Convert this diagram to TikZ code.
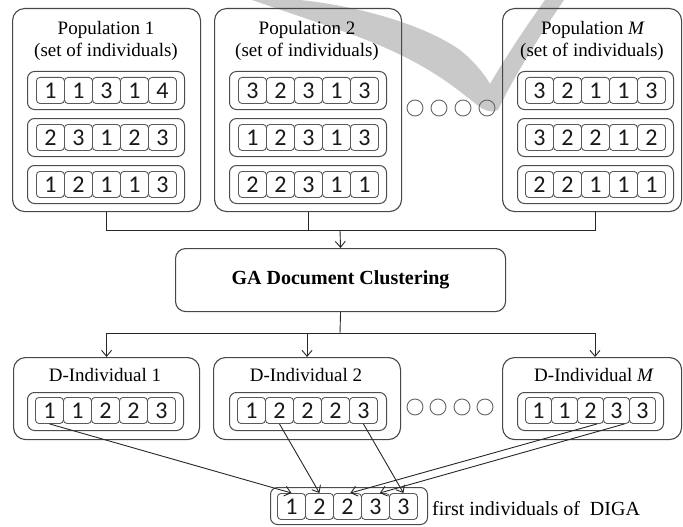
\documentclass[tikz,border=0pt]{standalone}
\usepackage{fontspec}
\setmainfont{Liberation Serif}
\newfontfamily\digitfont{Carlito}
\usetikzlibrary{arrows.meta,calc}
\tikzset{
  outerbox/.style={draw=black!72, line width=1.1pt, rounded corners=12pt, inner sep=0pt, anchor=north west},
  rowbox/.style={draw=black!70, line width=1pt, rounded corners=7pt, inner sep=0pt, anchor=north west},
  cellbox/.style={draw=black!65, line width=0.9pt, rounded corners=3.5pt, inner sep=0pt, minimum height=26pt, anchor=north west, text=black!90, font=\digitfont\fontsize{24}{24}\selectfont},
  dotc/.style={circle, draw=black!60, line width=0.9pt, minimum size=16pt, inner sep=0pt},
  ttl/.style={font=\fontsize{19}{22}\selectfont, anchor=base, inner sep=0pt},
  conn/.style={draw=black!85, line width=0.9pt},
  arr/.style={conn, -{Straight Barb[length=6pt,width=10pt,line width=0.9pt]}},
  wm/.style={fill=black!21},
}
\newcommand{\mkcells}[5]{%
  \foreach \dg [count=\ci] in {#5} {
    \node[cellbox, minimum width=#4pt] (#1c\ci) at ({#2+(\ci-1)*#4}, #3) {\dg};
  }%
}
\begin{document}
\begin{tikzpicture}[x=1pt,y=-1pt]
\useasboundingbox (0,0) rectangle (683,527);
% watermark swoosh
\fill[wm] (252,0) -- (300,0)
  .. controls (350,5) and (420,22) .. (460,50)
  .. controls (475,62) and (485,75) .. (490,84)
  .. controls (505,58) and (525,28) .. (545,0) -- (564,0)
  .. controls (540,35) and (512,80) .. (498,110)
  .. controls (492,113) and (484,111) .. (476,104)
  .. controls (455,88) and (425,60) .. (345,32)
  .. controls (305,18) and (275,8) .. (252,0) -- cycle;

% Population 1
\node[outerbox, minimum width=188pt, minimum height=203pt] (p1) at (12,8) {};
\node[ttl] (p1t1) at (106,35) {Population 1};
\node[ttl] (p1t2) at (106,57) {(set of individuals)};
\node[rowbox, minimum width=157pt, minimum height=38pt] (p1r1) at (27,71) {};
\node[rowbox, minimum width=157pt, minimum height=38pt] (p1r2) at (27,118) {};
\node[rowbox, minimum width=157pt, minimum height=38pt] (p1r3) at (27,165) {};
\mkcells{p1r1}{36}{77}{28}{1,1,3,1,4}
\mkcells{p1r2}{36}{124}{28}{2,3,1,2,3}
\mkcells{p1r3}{36}{171}{28}{1,2,1,1,3}

% Population 2
\node[outerbox, minimum width=187pt, minimum height=203pt] (p2) at (214,8) {};
\node[ttl] (p2t1) at (307,35) {Population 2};
\node[ttl] (p2t2) at (307,57) {(set of individuals)};
\node[rowbox, minimum width=157pt, minimum height=38pt] (p2r1) at (229,71) {};
\node[rowbox, minimum width=157pt, minimum height=38pt] (p2r2) at (229,118) {};
\node[rowbox, minimum width=157pt, minimum height=38pt] (p2r3) at (229,165) {};
\mkcells{p2r1}{238}{77}{28}{3,2,3,1,3}
\mkcells{p2r2}{238}{124}{28}{1,2,3,1,3}
\mkcells{p2r3}{238}{171}{28}{2,2,3,1,1}

% dots (top)
\node[dotc] (td1) at (415,108) {};
\node[dotc] (td2) at (439,108) {};
\node[dotc] (td3) at (463,108) {};
\node[dotc] (td4) at (487,108) {};

% Population M
\node[outerbox, minimum width=179pt, minimum height=203pt] (pm) at (502,8) {};
\node[ttl] (pmt1) at (593,35) {Population \textit{M}};
\node[ttl] (pmt2) at (592,57) {(set of individuals)};
\node[rowbox, minimum width=156pt, minimum height=38pt] (pmr1) at (517,71) {};
\node[rowbox, minimum width=156pt, minimum height=38pt] (pmr2) at (517,118) {};
\node[rowbox, minimum width=156pt, minimum height=38pt] (pmr3) at (517,165) {};
\mkcells{pmr1}{525}{77}{28}{3,2,1,1,3}
\mkcells{pmr2}{525}{124}{28}{3,2,2,1,2}
\mkcells{pmr3}{525}{171}{28}{2,2,1,1,1}

% GA box
\node[outerbox, rounded corners=10pt, minimum width=330pt, minimum height=63pt] (ga) at (175,248) {};
\node[font=\fontsize{20}{24}\selectfont\bfseries] (gat) at (ga.center) {GA Document Clustering};

% connectors top
\coordinate (pmb) at (595,211);
\coordinate (jtop) at (340,230);
\draw[conn] (p1.south) |- (jtop);
\draw[conn] (p2.south) |- (jtop);
\draw[conn] (pmb) |- (jtop);
\draw[arr] (jtop) -- (ga.north);

% D-Individuals
\node[outerbox, minimum width=186pt, minimum height=82pt] (d1) at (13,357) {};
\node[ttl] (d1t) at (105,381) {D-Individual 1};
\node[rowbox, minimum width=156pt, minimum height=38pt] (d1r) at (27,392) {};
\mkcells{d1r}{35}{397}{28}{1,1,2,2,3}

\node[outerbox, minimum width=187pt, minimum height=82pt] (d2) at (213,357) {};
\node[ttl] (d2t) at (306,381) {D-Individual 2};
\node[rowbox, minimum width=157pt, minimum height=38pt] (d2r) at (229,392) {};
\mkcells{d2r}{237}{397}{28}{1,2,2,2,3}

\node[dotc] (bd1) at (415,407) {};
\node[dotc] (bd2) at (438,407) {};
\node[dotc] (bd3) at (462,407) {};
\node[dotc] (bd4) at (485,407) {};

\node[outerbox, minimum width=179pt, minimum height=82pt] (dm) at (502,357) {};
\node[ttl] (dmt) at (594,381) {D-Individual \textit{M}};
\node[rowbox, minimum width=146pt, minimum height=38pt] (dmr) at (517,392) {};
\mkcells{dmr}{525}{397}{26}{1,1,2,3,3}

% connectors middle
\coordinate (jbot) at (340,333);
\coordinate (dmtop) at (595,357);
\draw[conn] (ga.south) -- (jbot);
\draw[arr] (jbot) -| (d1.north);
\draw[arr] (jbot) -| (d2.north);
\draw[arr] (jbot) -| (dmtop);

% final row
\node[rowbox, minimum width=157pt, minimum height=37pt] (fr) at (270,487) {};
\mkcells{frc}{277}{493}{28}{1,2,2,3,3}
\node[font=\fontsize{20}{24}\selectfont, anchor=base west, inner sep=0pt] (ftxt) at (432,515) {first individuals of\ \ DIGA};

% bottom arrows
\draw[arr] (d1rc1.south) -- (frcc1.north);
\draw[arr] (d2rc2.south) -- (frcc2.north);
\draw[arr] (d2rc5.south) -- (frcc5.north);
\draw[arr] ($(dmrc3.south)!0.5!(dmrc3.south east)$) -- ($(frcc3.north)!0.2!(frcc3.north east)$);
\draw[arr] ($(dmrc4.south)!0.6!(dmrc4.south east)$) -- ($(frcc4.north)!0.3!(frcc4.north east)$);
\end{tikzpicture}
\end{document}
